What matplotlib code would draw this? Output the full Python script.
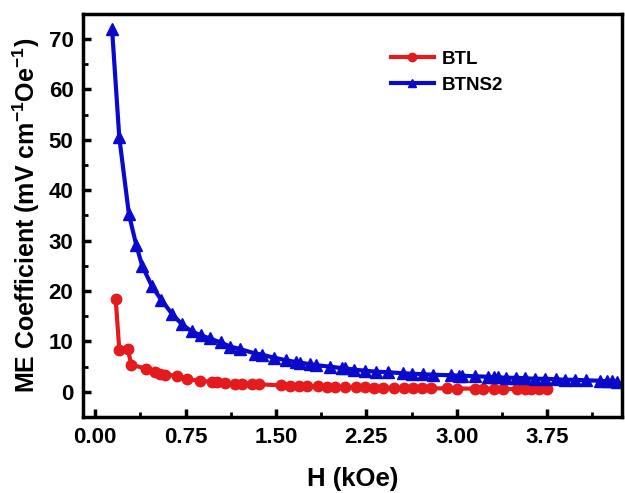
import numpy as np
import matplotlib
matplotlib.use('Agg')
import matplotlib.pyplot as plt
from matplotlib.ticker import MultipleLocator, FormatStrFormatter

plt.rcParams['font.family'] = ['Liberation Sans', 'DejaVu Sans']
plt.rcParams['font.weight'] = 'bold'
plt.rcParams['mathtext.fontset'] = 'custom'
plt.rcParams['mathtext.rm'] = 'Liberation Sans:bold'
plt.rcParams['mathtext.bf'] = 'Liberation Sans:bold'

# BTL sample
h_btl = [0.17, 0.20, 0.27, 0.30, 0.42, 0.50, 0.54, 0.58, 0.68, 0.76, 0.87,
         0.97, 1.01, 1.08, 1.16, 1.22, 1.30, 1.36, 1.54, 1.62, 1.69, 1.76,
         1.85, 1.92, 1.99, 2.07, 2.16, 2.24, 2.31, 2.39, 2.48, 2.56, 2.64,
         2.71, 2.79, 2.92, 3.00, 3.15, 3.22, 3.31, 3.38, 3.50, 3.57, 3.62,
         3.68, 3.75]
me_btl = [18.4, 8.4, 8.5, 5.4, 4.6, 3.9, 3.6, 3.4, 3.2, 2.5, 2.2,
          2.0, 1.9, 1.8, 1.6, 1.6, 1.5, 1.5, 1.3, 1.2, 1.2, 1.1,
          1.1, 1.0, 1.0, 0.95, 0.9, 0.9, 0.85, 0.85, 0.8, 0.8, 0.75,
          0.75, 0.7, 0.7, 0.65, 0.65, 0.6, 0.6, 0.6, 0.55, 0.55, 0.55,
          0.5, 0.5]

# BTNS2 sample
h_btns = [0.14, 0.20, 0.28, 0.34, 0.39, 0.47, 0.55, 0.64, 0.72, 0.80, 0.88,
          0.95, 1.04, 1.12, 1.20, 1.33, 1.38, 1.48, 1.58, 1.67, 1.70, 1.78,
          1.83, 1.95, 2.05, 2.07, 2.15, 2.24, 2.33, 2.43, 2.55, 2.63, 2.72,
          2.80, 2.95, 3.02, 3.04, 3.15, 3.26, 3.31, 3.34, 3.41, 3.49, 3.57,
          3.65, 3.73, 3.82, 3.90, 3.98, 4.07, 4.19, 4.25, 4.29, 4.33]
me_btns = [72.0, 50.5, 35.2, 29.2, 25.0, 21.0, 18.2, 15.4, 13.4, 12.0, 11.2,
           10.6, 9.8, 9.0, 8.5, 7.6, 7.4, 6.8, 6.3, 5.9, 5.8, 5.5,
           5.3, 5.0, 4.7, 4.7, 4.4, 4.2, 4.0, 3.9, 3.7, 3.6, 3.5,
           3.4, 3.3, 3.2, 3.2, 3.1, 3.0, 2.9, 2.9, 2.8, 2.8, 2.7,
           2.6, 2.6, 2.5, 2.4, 2.4, 2.3, 2.2, 2.1, 2.1, 2.0]

fig = plt.figure(figsize=(6.25, 4.93), dpi=100)
ax = fig.add_axes([0.133, 0.154, 0.862, 0.818])

ax.plot(h_btl, me_btl, '-o', color='#e41a1c', lw=3, ms=7.5, label='BTL')
ax.plot(h_btns, me_btns, '-^', color='#0a0acc', lw=3, ms=8, label='BTNS2')

ax.set_xlim(-0.1, 4.37)
ax.set_ylim(-5, 75)
ax.xaxis.set_major_locator(MultipleLocator(0.75))
ax.xaxis.set_minor_locator(MultipleLocator(0.375))
ax.xaxis.set_major_formatter(FormatStrFormatter('%.2f'))
ax.yaxis.set_major_locator(MultipleLocator(10))
ax.yaxis.set_minor_locator(MultipleLocator(5))

for sp in ax.spines.values():
    sp.set_linewidth(2.5)
ax.tick_params(which='major', direction='in', length=6, width=2.5,
               labelsize=16, pad=7)
ax.tick_params(which='minor', direction='in', length=3.5, width=2)
for lab in ax.get_xticklabels() + ax.get_yticklabels():
    lab.set_fontweight('bold')

ax.set_xlabel('H (kOe)', fontsize=18.5, fontweight='bold', labelpad=14)
ax.set_ylabel(r'ME Coefficient (mV cm$^{-1}$Oe$^{-1}$)', fontsize=18,
              fontweight='bold')
ax.yaxis.set_label_coords(-0.077, 0.5)

leg = ax.legend(loc='upper left', bbox_to_anchor=(0.54, 0.95), frameon=False,
                fontsize=13.5, handlelength=2.3, handletextpad=0.4,
                labelspacing=0.45, markerscale=0.8)
for t in leg.get_texts():
    t.set_fontweight('bold')

fig.savefig('out.png', dpi=100)
